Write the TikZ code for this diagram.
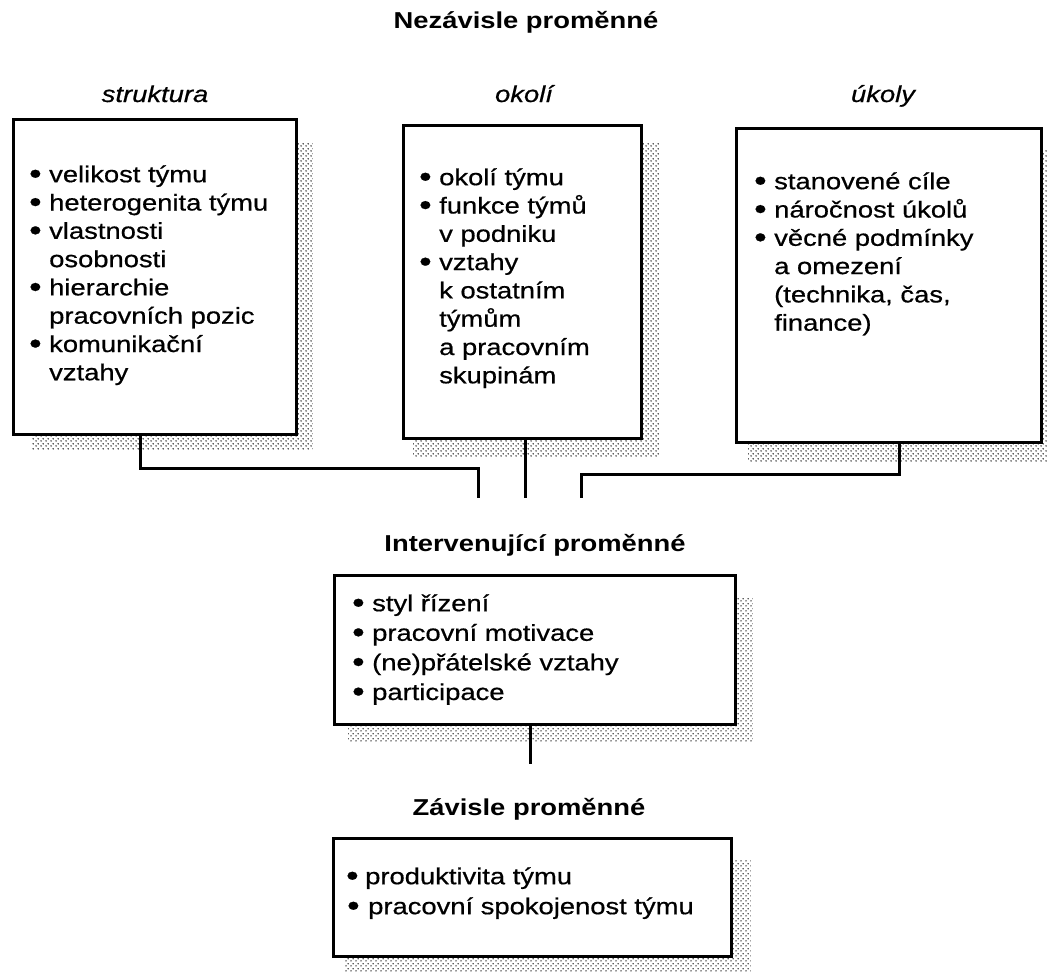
\documentclass[tikz,border=0pt]{standalone}
\usepackage{fontspec}
\setmainfont{Liberation Sans}[FakeStretch=1.19,
  UprightFeatures={FakeBold=0.6}, ItalicFeatures={FakeBold=0.6}]
\usepackage{graphicx}
\usetikzlibrary{patterns,backgrounds}

% stippled drop shadow
\pgfdeclarepatternformonly{stipple}{\pgfqpoint{0pt}{0pt}}{\pgfqpoint{5pt}{5pt}}{\pgfqpoint{5pt}{5pt}}{%
  \pgfpathcircle{\pgfqpoint{1.25pt}{1.25pt}}{0.9pt}%
  \pgfpathcircle{\pgfqpoint{3.75pt}{3.75pt}}{0.9pt}%
  \pgfusepath{fill}}

% list lines: bulleted item and continuation line
\newcommand\listbullet{\raisebox{-1.5pt}{\scalebox{1.3}{\textbullet}}}
\newcommand\itm[2][20pt]{\makebox[#1][l]{\listbullet}#2}
\newcommand\contl[1]{\hspace*{20pt}#1}
\newcommand\firstrule{\rule{0pt}{20pt}}

\tikzset{
  panel/.style={draw, line width=2.8pt, fill=white, anchor=north west, inner sep=0pt},
  shade/.style={pattern=stipple, pattern color=black!85},
  list/.style={anchor=north west, inner sep=0pt, align=left, font=\fontsize{23}{28.3}\selectfont},
  head/.style={anchor=base, inner sep=0pt, font=\fontsize{23}{28}\selectfont\bfseries},
  cat/.style={anchor=base, inner sep=0pt, font=\fontsize{23}{28}\selectfont\itshape},
  conn/.style={line width=3pt},
}

\begin{document}
\begin{tikzpicture}[x=1pt, y=-1pt]
\useasboundingbox (0,0) rectangle (1047,972);

% headings
\node[head] (h0) at (526,28) {Nezávisle proměnné};
\node[cat] (l1) at (155,102) {struktura};
\node[cat] (l2) at (524,102) {okolí};
\node[cat] (l3) at (883,102) {úkoly};
\node[head] (h1) at (535,551) {Intervenující proměnné};
\node[head] (h2) at (529,815) {Závisle proměnné};

% panels
\node[panel, minimum width=283pt, minimum height=315pt] (b1) at (12,118) {};
\node[panel, minimum width=238pt, minimum height=313pt] (b2) at (402,124) {};
\node[panel, minimum width=305pt, minimum height=314pt] (b3) at (735,127) {};
\node[panel, minimum width=401pt, minimum height=149pt] (b4) at (333,574) {};
\node[panel, minimum width=398pt, minimum height=118pt] (b5) at (332,837) {};

% shadows behind the panels
\begin{scope}[on background layer]
  \fill[shade] ([shift={(20,25)}]b1.north west) rectangle ([shift={(15,14)}]b1.south east);
  \fill[shade] ([shift={(11,19)}]b2.north west) rectangle ([shift={(16,17)}]b2.south east);
  \fill[shade] ([shift={(13,23)}]b3.north west) rectangle ([shift={(12,18)}]b3.south east);
  \fill[shade] ([shift={(15,23)}]b4.north west) rectangle ([shift={(16,17)}]b4.south east);
  \fill[shade] ([shift={(13,23)}]b5.north west) rectangle ([shift={(18,17)}]b5.south east);
\end{scope}

% panel contents
\node[list] (t1) at (29,162) {\firstrule\itm{velikost týmu}\\
  \itm{heterogenita týmu}\\
  \itm{vlastnosti}\\
  \contl{osobnosti}\\
  \itm{hierarchie}\\
  \contl{pracovních pozic}\\
  \itm{komunikační}\\
  \contl{vztahy}};

\node[list] (t2) at (419,165) {\firstrule\itm{okolí týmu}\\
  \itm{funkce týmů}\\
  \contl{v podniku}\\
  \itm{vztahy}\\
  \contl{k ostatním}\\
  \contl{týmům}\\
  \contl{a pracovním}\\
  \contl{skupinám}};

\node[list] (t3) at (754,169) {\firstrule\itm{stanovené cíle}\\
  \itm{náročnost úkolů}\\
  \itm{věcné podmínky}\\
  \contl{a omezení}\\
  \contl{(technika, čas,}\\
  \contl{finance)}};

\node[list, font=\fontsize{23}{29.6}\selectfont] (t4) at (352,591) {\firstrule\itm{styl řízení}\\
  \itm{pracovní motivace}\\
  \itm{(ne)přátelské vztahy}\\
  \itm{participace}};

\node[list, font=\fontsize{23}{30}\selectfont] (t5) at (346,864) {\firstrule\itm[19pt]{produktivita týmu}\\
  \hspace*{1pt}\itm[21pt]{pracovní spokojenost týmu}};

% connectors
\coordinate (j1) at (478,498);
\coordinate (j2) at (525,498);
\coordinate (j3) at (581,498);
\coordinate (j4) at (530,764);

\draw[conn] ([xshift=128pt]b1.south west) -- ++(0,33) -| (j1);
\draw[conn] (b2.south -| j2) -- (j2);
\draw[conn] ([xshift=164pt]b3.south west) -- ++(0,31) -| (j3);
\draw[conn] (b4.south -| j4) -- (j4);
\end{tikzpicture}
\end{document}
